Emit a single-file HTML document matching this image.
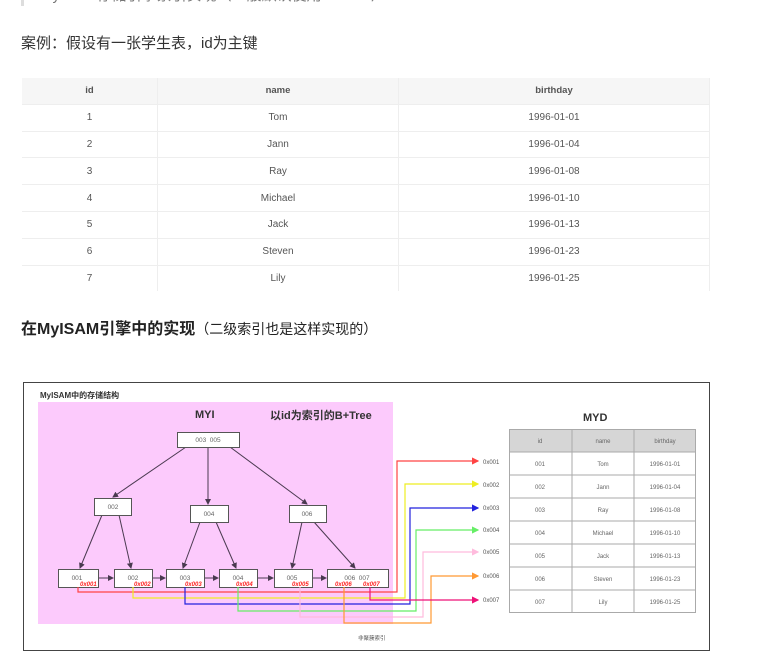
<!DOCTYPE html>
<html><head><meta charset="utf-8"><style>
body{margin:0;width:776px;height:656px;background:#fff;position:relative;overflow:hidden;font-family:"Liberation Sans","Noto Sans CJK SC",sans-serif}
.bq{position:absolute;left:21px;top:-8px;width:3px;height:14px;background:#ddd}
.bqt{position:absolute;left:40px;top:-16px;font-size:15px;color:#777}
.t1{position:absolute;left:21px;top:32px;font-size:15px;color:#333}
.t2{position:absolute;left:21px;top:315px;font-size:16px;color:#222}
table.a{position:absolute;left:22px;top:78px;width:688px;border-collapse:collapse;font-size:10px;color:#555}
table.a td,table.a th{height:25.8px;padding:0;text-align:center;border-bottom:1px solid #eee;border-right:1px solid #eee}
table.a th{background:#f6f6f6;font-weight:bold;color:#555;font-size:9.5px}
</style></head><body>
<div class="bq"></div>
<div class="bqt">MyISAM存储引擎索引实现（一般默认使用B+Tree）</div>
<div class="t1">案例：假设有一张学生表，id为主键</div>
<table class="a">
<tr><th style="width:135px">id</th><th style="width:240px">name</th><th>birthday</th></tr>
<tr><td>1</td><td>Tom</td><td>1996-01-01</td></tr>
<tr><td>2</td><td>Jann</td><td>1996-01-04</td></tr>
<tr><td>3</td><td>Ray</td><td>1996-01-08</td></tr>
<tr><td>4</td><td>Michael</td><td>1996-01-10</td></tr>
<tr><td>5</td><td>Jack</td><td>1996-01-13</td></tr>
<tr><td>6</td><td>Steven</td><td>1996-01-23</td></tr>
<tr><td style="border-bottom:none">7</td><td style="border-bottom:none">Lily</td><td style="border-bottom:none">1996-01-25</td></tr>
</table>
<div class="t2"><b>在MyISAM引擎中的实现</b><span style="font-size:14px">（二级索引也是这样实现的）</span></div>
<svg style="position:absolute;left:0;top:0" width="776" height="656" font-family="Liberation Sans,Noto Sans CJK SC,sans-serif">
<defs><marker id="m" markerWidth="6" markerHeight="6" refX="5" refY="3" orient="auto"><path d="M0,0L6,3L0,6z" fill="#4a3a50"/></marker>
<marker id="r" markerWidth="6" markerHeight="6" refX="5" refY="3" orient="auto"><path d="M0,0L6,3L0,6z" fill="context-stroke"/></marker></defs>
<rect x="23.5" y="382.5" width="686" height="268" fill="#fff" stroke="#444"/>
<text x="40" y="398" font-size="8" font-weight="bold" fill="#333">MyISAM中的存储结构</text>
<rect x="38" y="402" width="355" height="222" fill="#fccafc"/>
<text x="195" y="418" font-size="11" font-weight="bold" fill="#333">MYI</text>
<text x="270" y="419" font-size="11" font-weight="bold" fill="#333">以id为索引的B+Tree</text>
<g stroke="#4a3a50" stroke-width="1" marker-end="url(#m)">
<line x1="186" y1="447" x2="113" y2="497"/><line x1="208" y1="447" x2="208" y2="504"/><line x1="230" y1="447" x2="307" y2="504"/>
<line x1="102" y1="515" x2="80" y2="568"/><line x1="119" y1="515" x2="131" y2="568"/>
<line x1="200" y1="522" x2="183" y2="568"/><line x1="216" y1="522" x2="236" y2="568"/>
<line x1="302" y1="522" x2="292" y2="568"/><line x1="314" y1="522" x2="355" y2="568"/>
<line x1="98" y1="578" x2="113" y2="578"/><line x1="152" y1="578" x2="165" y2="578"/><line x1="204" y1="578" x2="218" y2="578"/><line x1="257" y1="578" x2="273" y2="578"/><line x1="312" y1="578" x2="326" y2="578"/>
</g>
<g fill="#fff" stroke="#555"><rect x="177.5" y="432.5" width="62" height="15"/><rect x="94.5" y="498.5" width="37" height="17"/><rect x="190.5" y="505.5" width="38" height="17"/><rect x="289.5" y="505.5" width="37" height="17"/>
<rect x="58.5" y="569.5" width="40" height="18"/><rect x="114.5" y="569.5" width="38" height="18"/><rect x="166.5" y="569.5" width="38" height="18"/><rect x="219.5" y="569.5" width="38" height="18"/><rect x="274.5" y="569.5" width="38" height="18"/><rect x="327.5" y="569.5" width="61" height="18"/></g>
<g font-size="6.5" fill="#666" text-anchor="middle"><text x="208" y="442">003 &#160;005</text><text x="113" y="509">002</text><text x="209" y="516">004</text><text x="307" y="516">006</text>
<text x="77" y="580">001</text><text x="133" y="580">002</text><text x="185" y="580">003</text><text x="238" y="580">004</text><text x="292" y="580">005</text><text x="357" y="580">006 &#160;007</text></g>
<g font-size="6" fill="#f22" font-weight="bold" font-style="italic"><text x="80" y="586">0x001</text><text x="134" y="586">0x002</text><text x="185" y="586">0x003</text><text x="236" y="586">0x004</text><text x="292" y="586">0x005</text><text x="335" y="586">0x006</text><text x="363" y="586">0x007</text></g>
<g fill="none" stroke-width="1.2" marker-end="url(#r)">
<polyline stroke="#f44" points="78,587 78,592 397,592 397,461 478,461"/>
<polyline stroke="#ee2" points="133,587 133,598 405,598 405,484 478,484"/>
<polyline stroke="#22d" points="185,587 185,604 410,604 410,508 478,508"/>
<polyline stroke="#6e6" points="238,587 238,611 416,611 416,530 478,530"/>
<polyline stroke="#fbd" points="300,587 300,617 423,617 423,552 478,552"/>
<polyline stroke="#f93" points="344,587 344,623 431,623 431,576 478,576"/>
<polyline stroke="#e17" points="370,587 370,600 478,600"/>
</g>
<g font-size="6" fill="#555"><text x="483" y="464">0x001</text><text x="483" y="487">0x002</text><text x="483" y="510">0x003</text><text x="483" y="532">0x004</text><text x="483" y="554">0x005</text><text x="483" y="578">0x006</text><text x="483" y="602">0x007</text></g>
<text x="358" y="640" font-size="5.5" fill="#555">非聚簇索引</text>
<text x="583" y="421" font-size="11" font-weight="bold" fill="#333">MYD</text>
<rect x="509" y="429" width="187" height="23" fill="#d6d6d6"/>
<g stroke="#aaa" fill="none"><rect x="509.5" y="429.5" width="186" height="183"/>
<line x1="572" y1="429" x2="572" y2="613"/><line x1="634" y1="429" x2="634" y2="613"/>
<line x1="509" y1="452" x2="696" y2="452"/><line x1="509" y1="475" x2="696" y2="475"/><line x1="509" y1="498" x2="696" y2="498"/><line x1="509" y1="521" x2="696" y2="521"/><line x1="509" y1="544" x2="696" y2="544"/><line x1="509" y1="567" x2="696" y2="567"/><line x1="509" y1="590" x2="696" y2="590"/></g>
<g font-size="6" fill="#666" text-anchor="middle">
<text x="540" y="443">id</text><text x="603" y="443">name</text><text x="665" y="443">birthday</text>
<text x="540" y="466">001</text><text x="603" y="466">Tom</text><text x="665" y="466">1996-01-01</text>
<text x="540" y="489">002</text><text x="603" y="489">Jann</text><text x="665" y="489">1996-01-04</text>
<text x="540" y="512">003</text><text x="603" y="512">Ray</text><text x="665" y="512">1996-01-08</text>
<text x="540" y="535">004</text><text x="603" y="535">Michael</text><text x="665" y="535">1996-01-10</text>
<text x="540" y="558">005</text><text x="603" y="558">Jack</text><text x="665" y="558">1996-01-13</text>
<text x="540" y="581">006</text><text x="603" y="581">Steven</text><text x="665" y="581">1996-01-23</text>
<text x="540" y="604">007</text><text x="603" y="604">Lily</text><text x="665" y="604">1996-01-25</text></g>
</svg>
</body></html>
